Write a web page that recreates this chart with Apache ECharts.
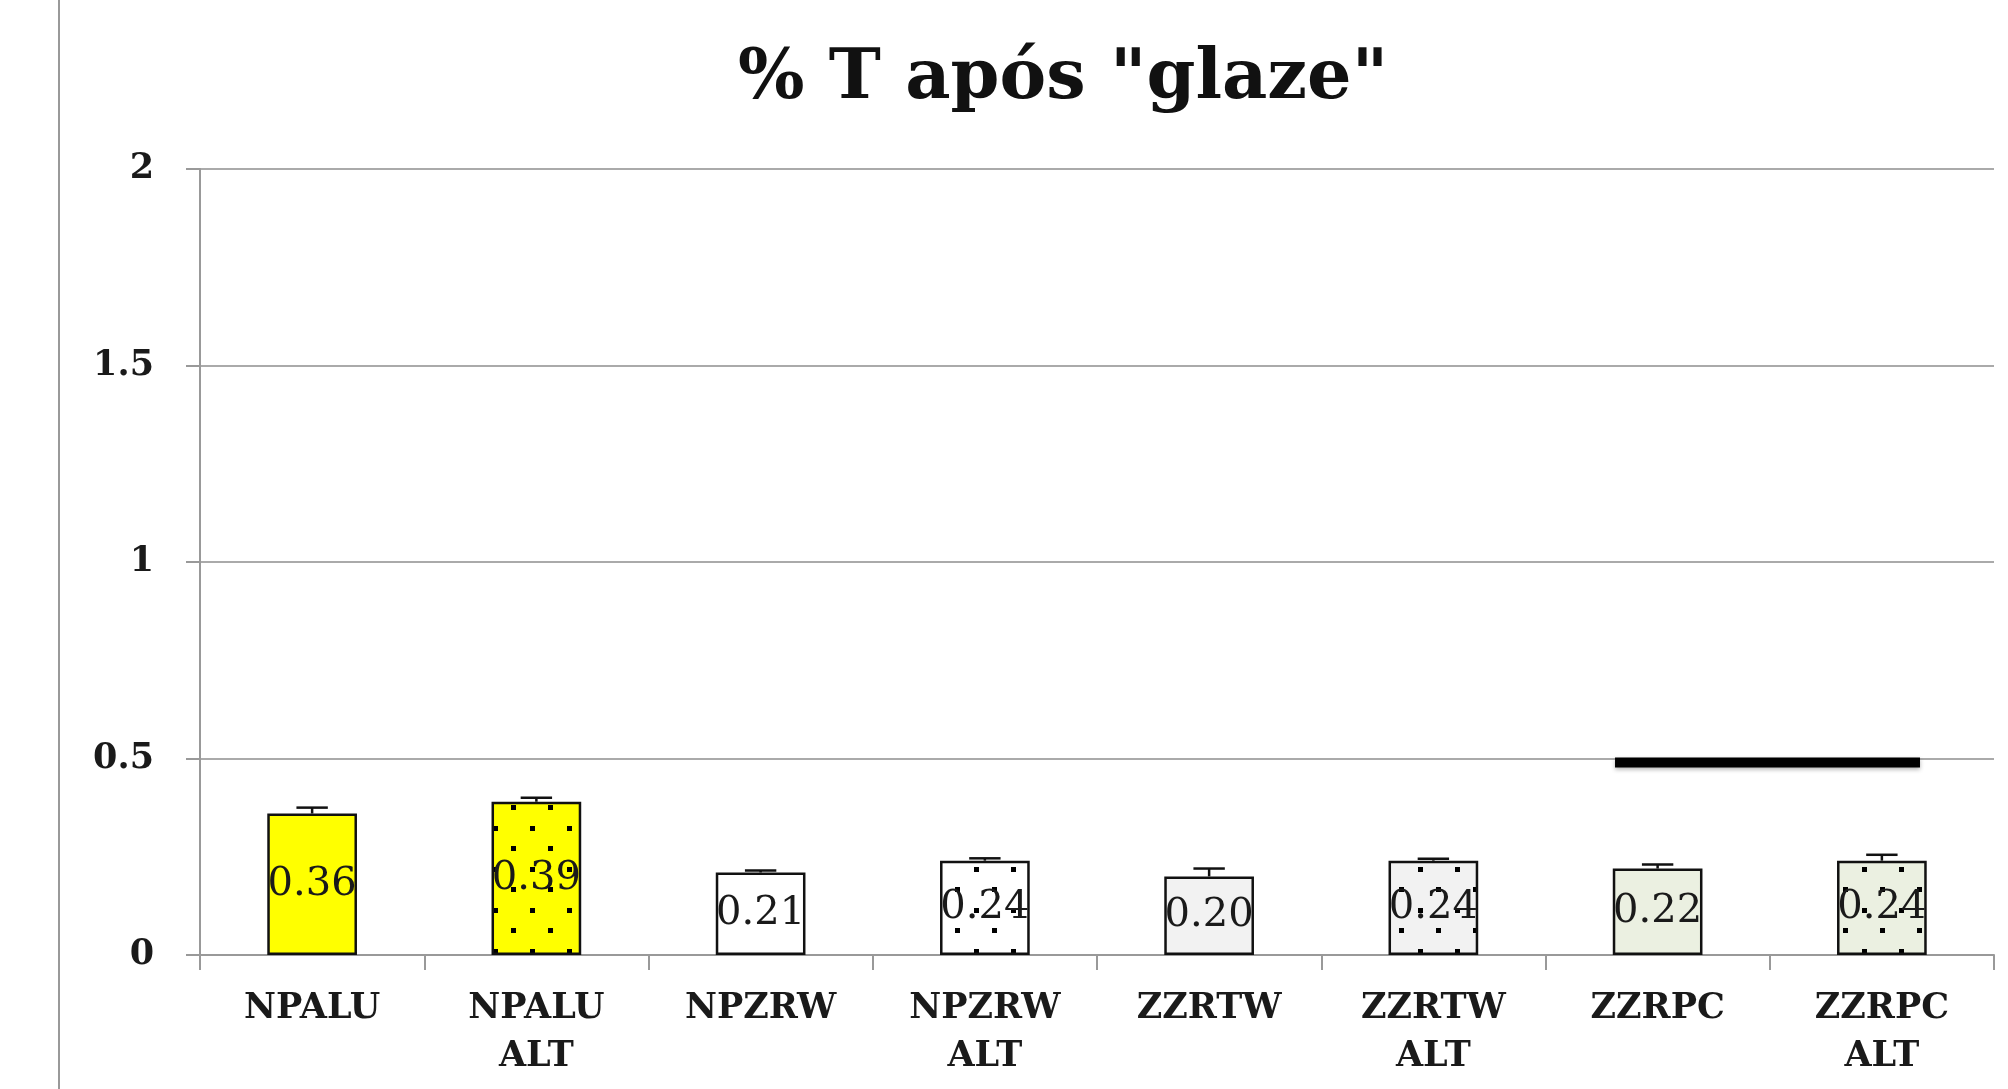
<!DOCTYPE html>
<html>
<head>
<meta charset="utf-8">
<script src="https://cdn.jsdelivr.net/npm/echarts@6/dist/echarts.min.js"></script>
<style>
    html, body { margin: 0; padding: 0; background: #fff; }
    #chart { width: 2008px; height: 1089px; }
</style>
</head>
<body>
<div id="chart"></div>
<script>
// data
const categories = ['NPALU', 'NPALU\nALT', 'NPZRW', 'NPZRW\nALT', 'ZZRTW', 'ZZRTW\nALT', 'ZZRPC', 'ZZRPC\nALT'];
const values = [0.36, 0.39, 0.21, 0.24, 0.20, 0.24, 0.22, 0.24];
const errors = [0.015, 0.01, 0.005, 0.006, 0.02, 0.005, 0.01, 0.015];
const fills = ['#ffff00', '#ffff00', '#ffffff', '#ffffff', '#f2f2f2', '#f2f2f2', '#ebf0e1', '#ebf0e1'];
const dotted = [false, true, false, true, false, true, false, true];
// bracket between ZZRPC and ZZRPC ALT
const bracket = [[6, 7, 0.49]];
const yTicks = [0, 0.5, 1, 1.5, 2];

const serif = '"DejaVu Serif", "Liberation Serif", serif';

// dotted fill pattern
function dotPattern(bg) {
    const c = document.createElement('canvas');
    c.width = 37;
    c.height = 41;
    const ctx = c.getContext('2d');
    ctx.fillStyle = bg;
    ctx.fillRect(0, 0, 37, 41);
    ctx.fillStyle = '#000';
    ctx.fillRect(12, 6, 5, 5);
    ctx.fillRect(30, 26, 5, 5);
    return { image: c, repeat: 'repeat' };
}

const barData = values.map((v, i) => ({
    value: v,
    itemStyle: { color: dotted[i] ? dotPattern(fills[i]) : fills[i] }
}));

const chart = echarts.init(document.getElementById('chart'));

const option = {
    animation: false,
    backgroundColor: '#fff',
    title: {
        text: '% T após "glaze"',
        left: 1058,
        textAlign: 'center',
        top: 40,
        textStyle: { fontFamily: serif, fontWeight: 'bold', fontSize: 70, color: '#111' }
    },
    graphic: [{
        type: 'line',
        shape: { x1: 59, y1: 0, x2: 59, y2: 1089 },
        style: { stroke: '#999', lineWidth: 2 }
    }],
    grid: { left: 200, right: 14, top: 169, bottom: 134 },
    xAxis: {
        type: 'category',
        data: categories,
        axisLine: { lineStyle: { color: '#999', width: 2 } },
        axisTick: { show: true, length: 15, lineStyle: { color: '#999', width: 2 } },
        axisLabel: {
            fontFamily: serif, fontSize: 35, fontWeight: 'bold', color: '#1a1a1a',
            margin: 30, lineHeight: 48, interval: 0
        }
    },
    yAxis: {
        type: 'value',
        min: 0,
        max: 2,
        interval: 0.5,
        axisLine: { show: true, lineStyle: { color: '#999', width: 2 } },
        axisTick: { show: true, length: 14, lineStyle: { color: '#999', width: 2 } },
        splitLine: { lineStyle: { color: '#aaa', width: 2 } },
        axisLabel: {
            fontFamily: serif, fontSize: 35, fontWeight: 'bold', color: '#1a1a1a', margin: 46,
            formatter: v => (yTicks.includes(v) ? String(v) : '')
        }
    },
    series: [
        {
            type: 'bar',
            data: barData,
            barWidth: '40%',
            itemStyle: { borderColor: '#111', borderWidth: 2.5 },
            label: {
                show: true,
                position: 'inside',
                fontFamily: serif,
                fontSize: 40,
                color: '#1a1a1a',
                formatter: p => p.value.toFixed(2)
            },
            z: 2
        },
        {
            // upper error bars
            type: 'custom',
            data: values.map((v, i) => [i, v, v + errors[i]]),
            renderItem: (params, api) => {
                const base = api.coord([api.value(0), api.value(1)]);
                const top = api.coord([api.value(0), api.value(2)]);
                const half = api.size([1, 0])[0] * 0.07;
                const style = { stroke: '#111', lineWidth: 2.5 };
                return {
                    type: 'group',
                    children: [
                        { type: 'line', shape: { x1: base[0], y1: base[1], x2: top[0], y2: top[1] }, style },
                        { type: 'line', shape: { x1: top[0] - half, y1: top[1], x2: top[0] + half, y2: top[1] }, style }
                    ]
                };
            },
            z: 3
        },
        {
            // bracket line
            type: 'custom',
            data: bracket,
            renderItem: (params, api) => {
                const a = api.coord([api.value(0), api.value(2)]);
                const b = api.coord([api.value(1), api.value(2)]);
                const bw = api.size([1, 0])[0];
                return {
                    type: 'line',
                    shape: { x1: a[0] - bw * 0.19, y1: a[1], x2: b[0] + bw * 0.17, y2: b[1] },
                    style: { stroke: '#000', lineWidth: 10, shadowBlur: 4, shadowColor: 'rgba(0,0,0,0.3)', shadowOffsetY: 2 }
                };
            },
            z: 4
        }
    ]
};

chart.setOption(option);
window.addEventListener('resize', () => chart.resize());
</script>
</body>
</html>
